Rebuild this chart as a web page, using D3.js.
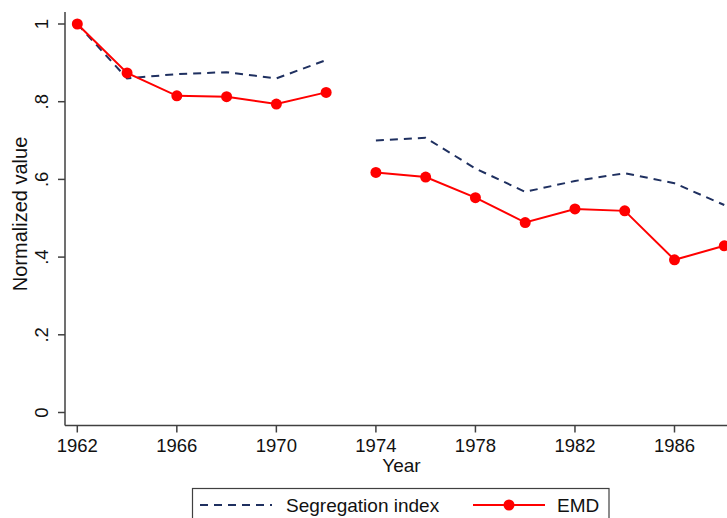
<!DOCTYPE html>
<html>
<head>
<meta charset="utf-8">
<script src="https://cdn.jsdelivr.net/npm/d3@7"></script>
<style>
  body { margin: 0; background: #fff; }
  svg { display: block; font-family: "Liberation Sans", Arial, sans-serif; }
</style>
</head>
<body>
<div id="chart"></div>
<script>
// data (1973 = gap in the series)
const years = [1962, 1964, 1966, 1968, 1970, 1972, 1973, 1974, 1976, 1978, 1980, 1982, 1984, 1986, 1988];
const segIndex = [1.0, 0.86, 0.871, 0.876, 0.86, 0.907, null, 0.70, 0.707, 0.628, 0.568, 0.596, 0.616, 0.59, 0.534];
const emd = [1.0, 0.874, 0.815, 0.813, 0.794, 0.824, null, 0.618, 0.606, 0.553, 0.489, 0.524, 0.519, 0.393, 0.429];
const xTicks = [1962, 1966, 1970, 1974, 1978, 1982, 1986];
const yTicks = [0, 0.2, 0.4, 0.6, 0.8, 1];
const seriesNames = ["Segregation index", "EMD"];

const width = 727;
const height = 518;
const axisCol = "#404040";
const navy = "#1f3060";
const red = "#ff0000";

const svg = d3
  .select("#chart")
  .append("svg")
  .attr("width", width)
  .attr("height", height);

// scales
const x = d3.scaleLinear().domain([1962, 1986]).range([77.3, 674.5]);
const y = d3.scaleLinear().domain([0, 1]).range([412.5, 24]);

const axisX = 65;
const axisY = 425.5;

// y axis
svg.append("line")
  .attr("x1", axisX).attr("x2", axisX)
  .attr("y1", 12).attr("y2", axisY)
  .attr("stroke", axisCol).attr("stroke-width", 1.5);

const yFmt = (d) => (d === 0 ? "0" : d === 1 ? "1" : d3.format(".1f")(d).replace(/^0/, ""));
yTicks.forEach((t) => {
  svg.append("line")
    .attr("x1", axisX - 7).attr("x2", axisX)
    .attr("y1", y(t)).attr("y2", y(t))
    .attr("stroke", axisCol).attr("stroke-width", 1.5);
  svg.append("text")
    .attr("transform", `translate(47.5,${y(t)}) rotate(-90)`)
    .attr("text-anchor", "middle")
    .attr("font-size", 18.5)
    .attr("fill", "#111")
    .text(yFmt(t));
});

// x axis
svg.append("line")
  .attr("x1", axisX).attr("x2", width)
  .attr("y1", axisY).attr("y2", axisY)
  .attr("stroke", axisCol).attr("stroke-width", 1.5);

xTicks.forEach((t) => {
  svg.append("line")
    .attr("x1", x(t)).attr("x2", x(t))
    .attr("y1", axisY).attr("y2", axisY + 7)
    .attr("stroke", axisCol).attr("stroke-width", 1.5);
  svg.append("text")
    .attr("x", x(t))
    .attr("y", 451.5)
    .attr("text-anchor", "middle")
    .attr("font-size", 18.5)
    .attr("fill", "#111")
    .text(t);
});

// axis titles
svg.append("text")
  .attr("x", 401.5).attr("y", 471.5)
  .attr("text-anchor", "middle")
  .attr("font-size", 19)
  .attr("fill", "#111")
  .text("Year");

svg.append("text")
  .attr("transform", `translate(27,214) rotate(-90)`)
  .attr("text-anchor", "middle")
  .attr("font-size", 20)
  .attr("fill", "#111")
  .text("Normalized value");

// lines
const line = (vals) =>
  d3.line()
    .defined((d, i) => vals[i] !== null)
    .x((d) => x(d))
    .y((d, i) => y(vals[i]));

svg.append("path")
  .attr("d", line(segIndex)(years))
  .attr("fill", "none")
  .attr("stroke", navy)
  .attr("stroke-width", 2)
  .attr("stroke-dasharray", "8,6");

svg.append("path")
  .attr("d", line(emd)(years))
  .attr("fill", "none")
  .attr("stroke", red)
  .attr("stroke-width", 2);

svg.append("g")
  .selectAll("circle")
  .data(years.filter((d, i) => emd[i] !== null))
  .join("circle")
  .attr("cx", (d) => x(d))
  .attr("cy", (d) => y(emd[years.indexOf(d)]))
  .attr("r", 5.5)
  .attr("fill", red);

// legend
const lg = svg.append("g");
lg.append("rect")
  .attr("x", 192.5).attr("y", 488.5)
  .attr("width", 416.5).attr("height", 40)
  .attr("fill", "#fff")
  .attr("stroke", axisCol).attr("stroke-width", 1.2);

lg.append("line")
  .attr("x1", 200).attr("x2", 272)
  .attr("y1", 505).attr("y2", 505)
  .attr("stroke", navy).attr("stroke-width", 2)
  .attr("stroke-dasharray", "8,6");
lg.append("text")
  .attr("x", 286).attr("y", 512)
  .attr("font-size", 19).attr("fill", "#111")
  .text(seriesNames[0]);

lg.append("line")
  .attr("x1", 473).attr("x2", 545)
  .attr("y1", 505).attr("y2", 505)
  .attr("stroke", red).attr("stroke-width", 2);
lg.append("circle")
  .attr("cx", 509).attr("cy", 505).attr("r", 5.5).attr("fill", red);
lg.append("text")
  .attr("x", 557).attr("y", 512)
  .attr("font-size", 19).attr("fill", "#111")
  .text(seriesNames[1]);
</script>
</body>
</html>
